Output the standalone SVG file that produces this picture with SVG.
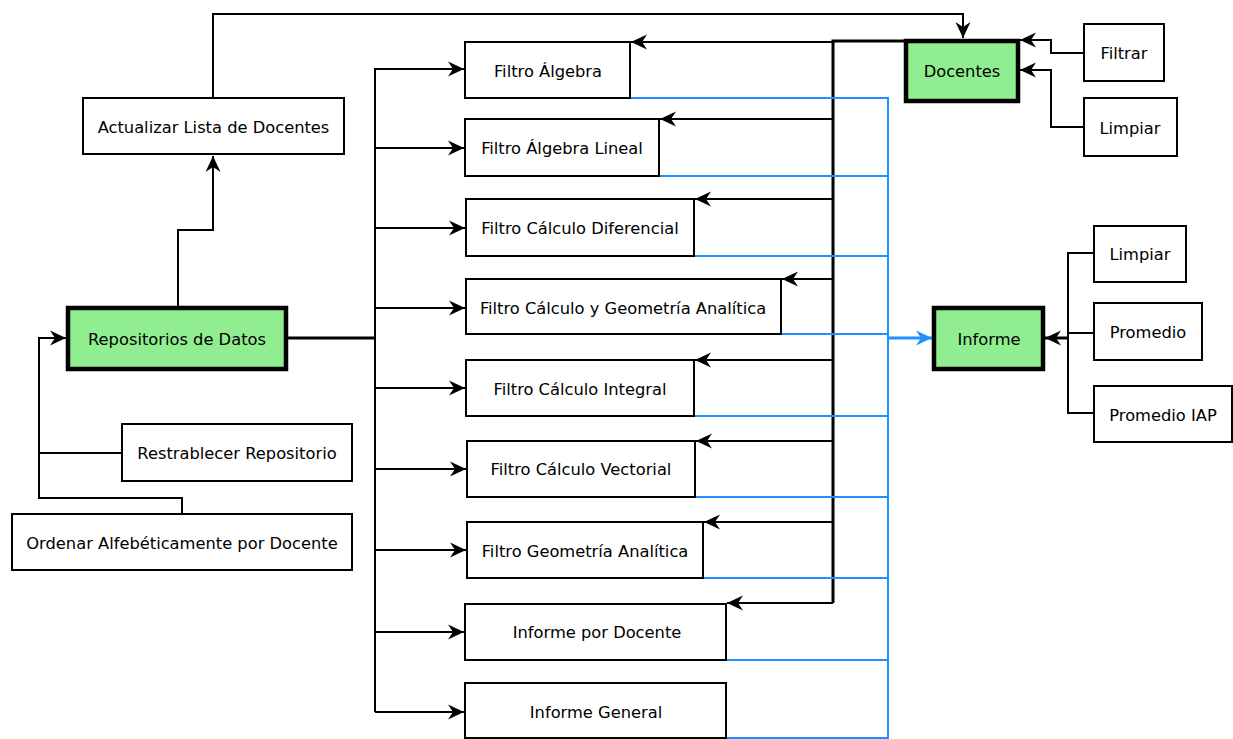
<svg xmlns="http://www.w3.org/2000/svg" width="1233" height="739" viewBox="0 0 1233 739">
<style>
.box{fill:#fff;stroke:#000;stroke-width:2}
.main{fill:#90ee90;stroke:#000;stroke-width:4.5}
.t{font-family:"DejaVu Sans",Verdana,sans-serif;font-size:16.3px;fill:#000;text-anchor:middle;dominant-baseline:central}
.c{fill:none;stroke:#000;stroke-width:2}
.b{fill:none;stroke:#1e90ff;stroke-width:2}
</style>
<defs>
<marker id="ah" markerUnits="userSpaceOnUse" markerWidth="18" markerHeight="18" viewBox="0 0 18 18" refX="16" refY="9" orient="auto">
<path d="M0,1.5 L16,9 L0,16.5 L5,9 z" fill="#000"/>
</marker>
<marker id="ahb" markerUnits="userSpaceOnUse" markerWidth="18" markerHeight="18" viewBox="0 0 18 18" refX="16" refY="9" orient="auto">
<path d="M0,1.5 L16,9 L0,16.5 L5,9 z" fill="#1e90ff"/>
</marker>
</defs>
<g id="connectors">
<path class="c" d="M213,98 V14 H963 V38" marker-end="url(#ah)"/>
<path class="c" d="M178,306 V230 H213 V156" marker-end="url(#ah)"/>
<path class="c" d="M286,338 H375" style="stroke-width:3"/>
<path class="c" d="M375,68 V712"/>
<path class="c" d="M375,69 H464" marker-end="url(#ah)"/>
<path class="c" d="M375,148 H464" marker-end="url(#ah)"/>
<path class="c" d="M375,228 H465" marker-end="url(#ah)"/>
<path class="c" d="M375,308 H465" marker-end="url(#ah)"/>
<path class="c" d="M375,388 H465" marker-end="url(#ah)"/>
<path class="c" d="M375,469 H466" marker-end="url(#ah)"/>
<path class="c" d="M375,550 H466" marker-end="url(#ah)"/>
<path class="c" d="M375,632 H464" marker-end="url(#ah)"/>
<path class="c" d="M375,712 H464" marker-end="url(#ah)"/>
<path class="c" d="M122,453 H39"/>
<path class="c" d="M182,514 V498 H39 V338 H66" marker-end="url(#ah)"/>
<path class="c" d="M906,41 H833 V603" style="stroke-width:3"/>
<path class="c" d="M833,42 H631" marker-end="url(#ah)"/>
<path class="c" d="M833,119 H660" marker-end="url(#ah)"/>
<path class="c" d="M833,199 H695" marker-end="url(#ah)"/>
<path class="c" d="M833,279 H782" marker-end="url(#ah)"/>
<path class="c" d="M833,360 H695" marker-end="url(#ah)"/>
<path class="c" d="M833,441 H696" marker-end="url(#ah)"/>
<path class="c" d="M833,522 H704" marker-end="url(#ah)"/>
<path class="c" d="M833,603 H727" marker-end="url(#ah)"/>
<path class="c" d="M1084,53 H1051 V40 H1020" marker-end="url(#ah)"/>
<path class="c" d="M1084,127 H1051 V70 H1020" marker-end="url(#ah)"/>
<path class="c" d="M1094,253 H1068 V413 H1094"/>
<path class="c" d="M1094,333 H1068"/>
<path class="c" d="M1068,338 H1045" style="stroke-width:3" marker-end="url(#ah)"/>
<path class="b" d="M630,98 H888 M659,176 H888 M694,256 H888 M781,334 H888 M694,416 H888 M695,497 H888 M703,578 H888 M726,660 H888 M726,738 H888 M888,97 V739"/>
<path class="b" d="M888,338 H932" style="stroke-width:3" marker-end="url(#ahb)"/>
</g>
<g id="actualizar"><rect class="box" x="83" y="98" width="261" height="56"/><text class="t" x="213.5" y="127">Actualizar Lista de Docentes</text></g>
<g id="repositorios"><rect class="main" x="68" y="308" width="218" height="61"/><text class="t" x="177" y="339">Repositorios de Datos</text></g>
<g id="restablecer"><rect class="box" x="122" y="424" width="230" height="57"/><text class="t" x="237" y="453">Restrablecer Repositorio</text></g>
<g id="ordenar"><rect class="box" x="12" y="514" width="340" height="56"/><text class="t" x="182" y="543">Ordenar Alfebéticamente por Docente</text></g>
<g id="f-algebra"><rect class="box" x="465" y="42" width="165" height="56"/><text class="t" x="548" y="71">Filtro Álgebra</text></g>
<g id="f-algebra-lineal"><rect class="box" x="465" y="119" width="194" height="57"/><text class="t" x="562" y="148">Filtro Álgebra Lineal</text></g>
<g id="f-diferencial"><rect class="box" x="466" y="199" width="228" height="57"/><text class="t" x="580" y="228">Filtro Cálculo Diferencial</text></g>
<g id="f-calc-geom"><rect class="box" x="466" y="279" width="315" height="55"/><text class="t" x="623" y="308">Filtro Cálculo y Geometría Analítica</text></g>
<g id="f-integral"><rect class="box" x="466" y="360" width="228" height="56"/><text class="t" x="580" y="389">Filtro Cálculo Integral</text></g>
<g id="f-vectorial"><rect class="box" x="467" y="441" width="228" height="56"/><text class="t" x="581" y="469">Filtro Cálculo Vectorial</text></g>
<g id="f-geometria"><rect class="box" x="467" y="522" width="236" height="56"/><text class="t" x="585" y="551">Filtro Geometría Analítica</text></g>
<g id="informe-docente"><rect class="box" x="465" y="604" width="261" height="56"/><text class="t" x="597" y="632">Informe por Docente</text></g>
<g id="informe-general"><rect class="box" x="465" y="683" width="261" height="55"/><text class="t" x="596" y="712">Informe General</text></g>
<g id="docentes"><rect class="main" x="906" y="41" width="112" height="60"/><text class="t" x="962" y="71">Docentes</text></g>
<g id="filtrar"><rect class="box" x="1084" y="24" width="80" height="57"/><text class="t" x="1124" y="53">Filtrar</text></g>
<g id="limpiar-doc"><rect class="box" x="1084" y="98" width="93" height="58"/><text class="t" x="1130" y="128">Limpiar</text></g>
<g id="informe"><rect class="main" x="934" y="308" width="109" height="61"/><text class="t" x="989" y="339">Informe</text></g>
<g id="limpiar-inf"><rect class="box" x="1094" y="226" width="92" height="56"/><text class="t" x="1140" y="254">Limpiar</text></g>
<g id="promedio"><rect class="box" x="1094" y="303" width="108" height="57"/><text class="t" x="1148" y="332">Promedio</text></g>
<g id="promedio-iap"><rect class="box" x="1094" y="386" width="138" height="56"/><text class="t" x="1163" y="415">Promedio IAP</text></g>
</svg>
